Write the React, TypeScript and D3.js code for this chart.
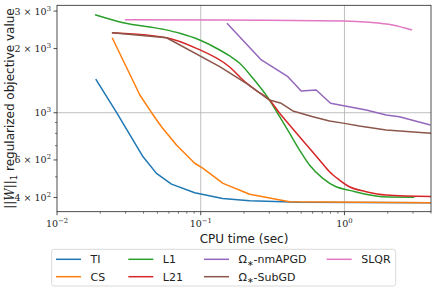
import React from 'react'
import * as d3 from 'd3'

// values (CPU time in sec, objective value)
const tiT = [0.0186, 0.026, 0.0397, 0.0492, 0.0626, 0.0908, 0.142, 0.219, 0.487, 4.0]
const tiY = [1439, 1000, 621, 519, 462, 421, 396, 386, 380, 378]

const csT = [0.0242, 0.0377, 0.0455, 0.0533, 0.0678, 0.0908, 0.1038, 0.143, 0.219, 0.415, 4.0]
const csY = [2249, 1211, 1000, 859, 705, 579, 548, 466, 414, 382, 378]

const l1T = [0.0184, 0.0289, 0.0547, 0.0715, 0.0984, 0.1355, 0.159, 0.1866, 0.231, 0.301, 0.354, 0.415, 0.487, 0.571, 0.707, 0.875, 1.083, 1.846, 3.06]
const l1Y = [2884, 2646, 2464, 2360, 2194, 1970, 1846, 1706, 1450, 1147, 958, 801, 668, 568, 492, 449, 432, 403, 401]

const l21T = [0.0241, 0.0578, 0.0933, 0.159, 0.197, 0.2437, 0.301, 0.354, 0.415, 0.487, 0.571, 0.67, 0.787, 0.923, 1.083, 1.416, 1.95, 4.0]
const l21Y = [2374, 2249, 2005, 1639, 1424, 1271, 1147, 994, 876, 771, 681, 600, 528, 483, 449, 426, 411, 404]

const nmT = [0.1523, 0.264, 0.404, 0.5, 0.636, 0.8, 0.989, 1.416, 1.95, 2.41, 3.96]
const nmY = [2629, 1768, 1476, 1265, 1278, 1107, 1079, 1030, 975, 958, 875]

const subT = [0.0241, 0.0578, 0.1355, 0.2076, 0.301, 0.363, 0.4375, 0.603, 0.787, 1.0, 1.27, 1.95, 4.0]
const subY = [2374, 2249, 1644, 1374, 1147, 1107, 1019, 958, 914, 891, 866, 829, 800]

const slqrT = [0.0297, 0.1355, 0.989, 1.49, 2.16, 2.95]
const slqrY = [2734, 2723, 2695, 2657, 2580, 2444]

const seriesNames = ['TI', 'CS', 'L1', 'L21', 'nmAPGD', 'SubGD', 'SLQR']
const seriesColors = ['#1f77b4', '#ff7f0e', '#2ca02c', '#d62728', '#9467bd', '#8c564b', '#e377c2']
const seriesT = [tiT, csT, l1T, l21T, nmT, subT, slqrT]
const seriesY = [tiY, csY, l1Y, l21Y, nmY, subY, slqrY]
const smoothSeries = ['L1', 'L21', 'SLQR']

const xMajor = [0.01, 0.1, 1]
const xMajorExp = ['−2', '−1', '0']
const yLabeled = [400, 600, 1000, 2000, 3000]
const yLabelMant = ['4', '6', '', '2', '3']
const yLabelExp = ['2', '2', '3', '3', '3']

const W = 436
const H = 291
const left = 57
const right = 431
const top = 5.3
const bottom = 211.7

export default function App() {
  const x = d3.scaleLog().domain([0.01, 4]).range([left, right])
  const y = d3.scaleLog().domain([343, 3193]).range([bottom, top])

  const straight = d3
    .line<[number, number]>()
    .x((d) => x(d[0]))
    .y((d) => y(d[1]))
  const smooth = d3
    .line<[number, number]>()
    .x((d) => x(d[0]))
    .y((d) => y(d[1]))
    .curve(d3.curveMonotoneX)

  const xMinor: number[] = []
  for (const dec of [0.01, 0.1, 1]) {
    for (let k = 2; k <= 9; k++) {
      const v = dec * k
      if (v <= 4) xMinor.push(v)
    }
  }
  const yMinor: number[] = []
  for (const dec of [100, 1000]) {
    for (let k = 2; k <= 9; k++) {
      const v = dec * k
      if (v >= 343 && v <= 3193) yMinor.push(v)
    }
  }

  const serif = "'DejaVu Serif', serif"
  const sans = "'DejaVu Sans', sans-serif"

  // legend layout: column x of handle start, row
  const legCols = [56, 128.3, 204, 326.7]
  const legRows = [259.3, 276.7]
  const legendItems = [
    { i: 0, c: 0, r: 0 },
    { i: 1, c: 0, r: 1 },
    { i: 2, c: 1, r: 0 },
    { i: 3, c: 1, r: 1 },
    { i: 4, c: 2, r: 0 },
    { i: 5, c: 2, r: 1 },
    { i: 6, c: 3, r: 0 },
  ]

  const legendLabel = (name: string) => {
    if (name === 'nmAPGD' || name === 'SubGD') {
      return (
        <>
          Ω<tspan fontSize={8} dy={2.5}>∗</tspan>
          <tspan dy={-2.5}>-{name}</tspan>
        </>
      )
    }
    return name
  }

  return (
    <svg width={W} height={H} style={{ position: 'absolute', left: 0, top: 0, background: '#fff' }}>
      <defs>
        <clipPath id="plot">
          <rect x={left} y={top} width={right - left} height={bottom - top} />
        </clipPath>
      </defs>

      {/* grid */}
      <g stroke="#b0b0b0" strokeWidth={0.8}>
        {xMajor.slice(1).map((v) => (
          <line key={v} x1={x(v)} x2={x(v)} y1={top} y2={bottom} />
        ))}
        <line x1={left} x2={right} y1={y(1000)} y2={y(1000)} />
      </g>

      {/* series */}
      <g clipPath="url(#plot)" fill="none" strokeWidth={1.5} strokeLinejoin="round">
        {seriesNames.map((name, i) => {
          const pts = seriesT[i].map((t, j) => [t, seriesY[i][j]] as [number, number])
          const gen = smoothSeries.includes(name) ? smooth : straight
          return <path key={name} d={gen(pts) || ''} stroke={seriesColors[i]} />
        })}
      </g>

      {/* frame */}
      <rect x={left} y={top} width={right - left} height={bottom - top} fill="none" stroke="#222" strokeWidth={0.8} />

      {/* ticks */}
      <g stroke="#222" strokeWidth={0.8}>
        {xMajor.map((v) => (
          <line key={v} x1={x(v)} x2={x(v)} y1={bottom} y2={bottom + 3.5} />
        ))}
        {xMinor.map((v) => (
          <line key={v} x1={x(v)} x2={x(v)} y1={bottom} y2={bottom + 2} strokeWidth={0.6} />
        ))}
        {yLabeled.map((v) => (
          <line key={v} x1={left - 3.5} x2={left} y1={y(v)} y2={y(v)} />
        ))}
        {yMinor.filter((v) => !yLabeled.includes(v)).map((v) => (
          <line key={v} x1={left - 2} x2={left} y1={y(v)} y2={y(v)} strokeWidth={0.6} />
        ))}
      </g>

      <g fontFamily={serif} fontSize={9.5} fill="#222">
        {xMajor.map((v, i) => (
          <text key={v} x={x(v)} y={bottom + 15} textAnchor="middle">
            10<tspan fontSize={6.8} dy={-4}>{xMajorExp[i]}</tspan>
          </text>
        ))}
        {yLabeled.map((v, i) => (
          <text key={v} x={left - 6} y={y(v) + 3.5} textAnchor="end">
            {yLabelMant[i] ? `${yLabelMant[i]} × ` : ''}10<tspan fontSize={6.8} dy={-4}>{yLabelExp[i]}</tspan>
          </text>
        ))}
      </g>

      {/* axis labels */}
      <text x={244} y={243} textAnchor="middle" fontFamily={sans} fontSize={12} fill="#222">
        CPU time (sec)
      </text>
      <text
        transform={`translate(14, ${(top + bottom) / 2}) rotate(-90)`}
        textAnchor="middle"
        fontFamily={sans}
        fontSize={12}
        fill="#222"
      >
        ||<tspan fontFamily={serif} fontStyle="italic">W</tspan>||<tspan fontSize={8.5} dy={3}>1</tspan>
        <tspan dy={-3}> regularized objective value</tspan>
      </text>

      {/* legend */}
      <rect x={51.7} y={249.3} width={344} height={36.7} rx={2.5} fill="#fff" stroke="#d0d0d0" strokeWidth={0.8} />
      {legendItems.map(({ i, c, r }) => (
        <g key={i}>
          <line x1={legCols[c]} x2={legCols[c] + 25} y1={legRows[r]} y2={legRows[r]} stroke={seriesColors[i]} strokeWidth={1.5} />
          <text x={legCols[c] + 34.5} y={legRows[r] + 4} fontFamily={sans} fontSize={11} fill="#222">
            {legendLabel(seriesNames[i])}
          </text>
        </g>
      ))}
    </svg>
  )
}
